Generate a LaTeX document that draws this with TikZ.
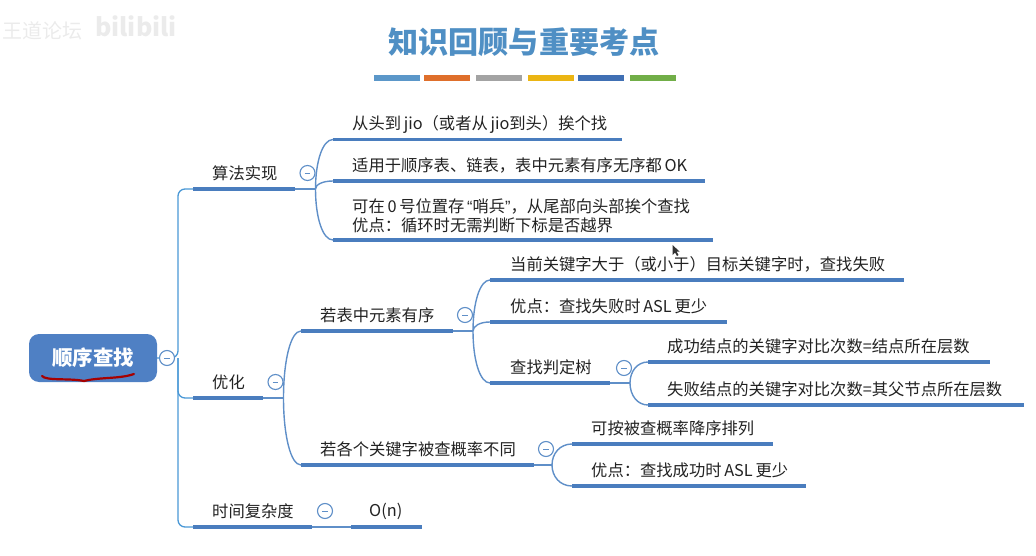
\documentclass[tikz,border=0pt]{standalone}
\usepackage{fontspec}
\setmainfont{Noto Sans CJK SC}
\newfontfamily\quotefont{Liberation Sans}
\usetikzlibrary{calc}
\definecolor{barblue}{HTML}{4A7DBE}
\definecolor{linkblue}{HTML}{5F8FC8}
\definecolor{trunkblue}{HTML}{4A98D6}
\definecolor{titleblue}{HTML}{4F8FC4}
\definecolor{rootblue}{HTML}{4F80C4}
\definecolor{inkc}{HTML}{222222}
\definecolor{swa}{HTML}{5B97C9}
\definecolor{swb}{HTML}{DF6F2B}
\definecolor{swc}{HTML}{A3A3A3}
\definecolor{swd}{HTML}{EBB513}
\definecolor{swe}{HTML}{4070B4}
\definecolor{swf}{HTML}{71AE48}
\newcommand{\sz}[1]{\fontsize{#1}{19}\selectfont}
\tikzset{
  bar/.style={fill=barblue,inner sep=0pt,minimum height=3.6pt,anchor=west},
  lbl/.style={text=inkc,inner sep=0pt,anchor=west,align=left,font=\sz{16.3}},
  conn/.style={draw=linkblue,line width=1.4pt},
  trunk/.style={draw=trunkblue,line width=1.3pt,rounded corners=7pt},
  swatch/.style={minimum height=6pt,minimum width=46pt,inner sep=0pt},
  fold/.style={circle,draw=linkblue,fill=white,line width=1.1pt,minimum size=15pt,inner sep=0pt,
    path picture={\draw[linkblue,line width=0.9pt] ([xshift=-2.8pt]path picture bounding box.center) -- ([xshift=2.8pt]path picture bounding box.center);}},
}
\newcommand{\mybar}[4]{\node[bar,minimum width=#4pt] (#1) at (#2,#3) {};}
\newcommand{\link}[2]{\draw[conn] (#1) .. controls ($(#1 |- #2.west)!.45!(#1)$) and ($(#1 |- #2.west)!.4!(#2.west)$) .. (#2.west);}
\begin{document}
\begin{tikzpicture}[x=1pt,y=-1pt]
\useasboundingbox (0,0) rectangle (1036,556);
% watermark
\node[text=black!8,inner sep=0pt,anchor=west,font=\sz{20}] (wm1) at (2,31) {王道论坛};
\node[text=black!8,inner sep=0pt,anchor=west,font=\bfseries\sz{25}] (wm2) at (95,26) {bilibili};
% title
\node[text=titleblue,inner sep=0pt,font=\bfseries\sz{30.1}] (title) at (524,42) {知识回顾与重要考点};
\node[swatch,fill=swa] (c1) at (396.5,78) {};
\node[swatch,fill=swb] (c2) at (446.5,78) {};
\node[swatch,fill=swc] (c3) at (498.5,78) {};
\node[swatch,fill=swd] (c4) at (550.5,78) {};
\node[swatch,fill=swe] (c5) at (600.5,78) {};
\node[swatch,fill=swf] (c6) at (652.5,78) {};
% bars
\mybar{b1}{193}{189}{102}
\mybar{b2}{193}{398}{70}
\mybar{b3}{193}{527}{119}
\mybar{b31}{351}{527}{71}
\mybar{b11}{333}{139.5}{289}
\mybar{b12}{333}{181}{372}
\mybar{b13}{333}{240}{380}
\mybar{b21}{301}{331}{152}
\mybar{b22}{301}{465}{233}
\mybar{b211}{490}{280}{414}
\mybar{b212}{490}{322}{237}
\mybar{b213}{490}{383}{120}
\mybar{b2131}{648}{362}{342}
\mybar{b2132}{648}{405}{376}
\mybar{b221}{572}{444}{201}
\mybar{b222}{572}{486}{234}
% root
\node[fill=rootblue,rounded corners=10pt,minimum width=128pt,minimum height=48pt,inner sep=0pt,text=white,font=\bfseries\sz{20.5}] (root) at (93,358) {顺序查找};
% connectors
\coordinate (f0) at (178,358);
\draw[trunk] (root.east) -- (f0) |- (b1.west);
\draw[trunk] (f0) |- (b2.west);
\draw[trunk] (f0) |- (b3.west);
\coordinate (f1) at (315.5,189);
\draw[conn] (b1.east) -- (f1);
\link{f1}{b11}\link{f1}{b12}\link{f1}{b13}
\coordinate (f2) at (283.5,398);
\draw[conn] (b2.east) -- (f2);
\link{f2}{b21}\link{f2}{b22}
\coordinate (f21) at (473,331);
\draw[conn] (b21.east) -- (f21);
\link{f21}{b211}\link{f21}{b212}\link{f21}{b213}
\coordinate (f213) at (630,383);
\draw[conn] (b213.east) -- (f213);
\link{f213}{b2131}\link{f213}{b2132}
\coordinate (f22) at (552,465);
\draw[conn] (b22.east) -- (f22);
\link{f22}{b221}\link{f22}{b222}
\draw[conn] (b3.east) -- (b31.west);
% folds
\node[fold] (k0) at (167,358) {};
\node[fold] (k1) at (307.5,173) {};
\node[fold] (k2) at (275.5,382) {};
\node[fold] (k3) at (325,511) {};
\node[fold] (k21) at (465,315) {};
\node[fold] (k213) at (624,368) {};
\node[fold] (k22) at (546,449) {};
% labels
\node[lbl] (t1) at (212,173.5) {算法实现};
\node[lbl] (t2) at (212,382.5) {优化};
\node[lbl] (t3) at (212,511.5) {时间复杂度};
\node[lbl] (t31) at (369,511.5) {O(n)};
\node[lbl] (t11) at (352,124) {从头到\,jio（或者从\,jio到头）挨个找};
\node[lbl] (t12) at (352,165.5) {适用于顺序表、链表，表中元素有序无序都\,OK};
\node[lbl] (t13) at (352,216) {可在\,0\,号位置存\,{\quotefont “}哨兵{\quotefont ”}，从尾部向头部挨个查找\\优点：循环时无需判断下标是否越界};
\node[lbl] (t21) at (320,315.5) {若表中元素有序};
\node[lbl] (t22) at (320,449.5) {若各个关键字被查概率不同};
\node[lbl] (t211) at (510,264.5) {当前关键字大于（或小于）目标关键字时，查找失败};
\node[lbl] (t212) at (510,306.5) {优点：查找失败时\,ASL\,更少};
\node[lbl] (t213) at (510,367.5) {查找判定树};
\node[lbl] (t2131) at (667,346.5) {成功结点的关键字对比次数=结点所在层数};
\node[lbl] (t2132) at (667,389.5) {失败结点的关键字对比次数=其父节点所在层数};
\node[lbl] (t221) at (591,428.5) {可按被查概率降序排列};
\node[lbl] (t222) at (591,470.5) {优点：查找成功时\,ASL\,更少};
% pen stroke and cursor
\draw[draw=red!65!black,line width=2.2pt,line cap=round] (42,376) .. controls (46,381) and (70,378) .. (84,381) .. controls (100,377) and (120,379) .. (134,374);
\fill[black!80] (672.5,245) -- (672.5,255) -- (675,252.5) -- (677,256) -- (678.5,255) -- (676.5,251.5) -- (679.5,251.5) -- cycle;
\end{tikzpicture}
\end{document}
